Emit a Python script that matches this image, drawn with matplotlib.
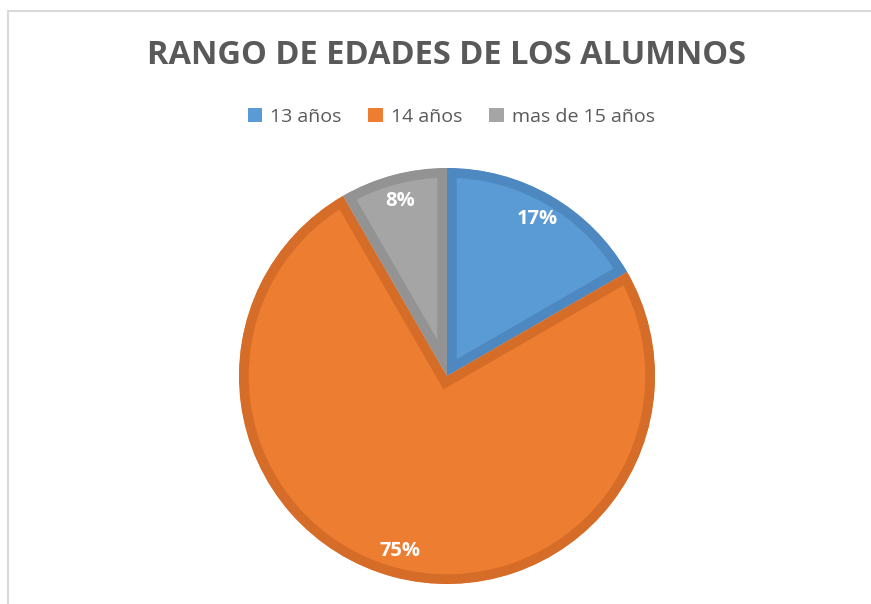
import matplotlib.pyplot as plt
from matplotlib.patches import Rectangle, Patch

# datos: numero de alumnos por rango de edad
categorias = ['13 años', '14 años', 'mas de 15 años']
alumnos = [2, 9, 1]
colores = ['#5B9BD5', '#ED7D31', '#A5A5A5']
bordes = ['#4E88C0', '#D56C27', '#939393']

fig = plt.figure(figsize=(8.71, 6.04), dpi=100)
fig.patch.set_facecolor('white')

# marco del grafico (se corta por la derecha y abajo)
fig.patches.append(Rectangle((8 / 871, -0.1), 1.2, 1 - 11 / 604 + 0.1,
                             transform=fig.transFigure, fill=False,
                             edgecolor='#D9D9D9', linewidth=1.5))

ax = fig.add_axes([239 / 871, 20 / 604, 416 / 871, 416 / 604])
wedges, textos, pcts = ax.pie(alumnos, colors=colores, startangle=90, counterclock=False,
                              autopct='%1.0f%%', pctdistance=0.87, radius=1,
                              wedgeprops=dict(linewidth=14))
for w, b in zip(wedges, bordes):
    w.set_edgecolor(b)
    w.set_clip_on(True)
    w.set_clip_path(w.get_path(), w.get_transform())
for p in pcts:
    p.set_color('white')
    p.set_fontsize(14.5)
    p.set_fontweight('bold')
    p.set_fontfamily('Open Sans')
ax.set_xlim(-1, 1)
ax.set_ylim(-1, 1)
ax.set_aspect('equal')
ax.axis('off')

fig.text(0.513, 1 - 56 / 604, 'RANGO DE EDADES DE LOS ALUMNOS', ha='center', va='center',
         fontsize=23.5, fontweight='bold', color='#595959', family='Open Sans')

handles = [Patch(facecolor=c, edgecolor='none') for c in colores]
fig.legend(handles, categorias, loc='center', bbox_to_anchor=(0.518, 1 - 117 / 604), ncol=3,
           frameon=False, handlelength=0.75, handleheight=0.75, handletextpad=0.4,
           columnspacing=1.4, prop={'family': 'Open Sans', 'size': 14},
           labelcolor='#595959')

fig.savefig('out.png', dpi=100)
